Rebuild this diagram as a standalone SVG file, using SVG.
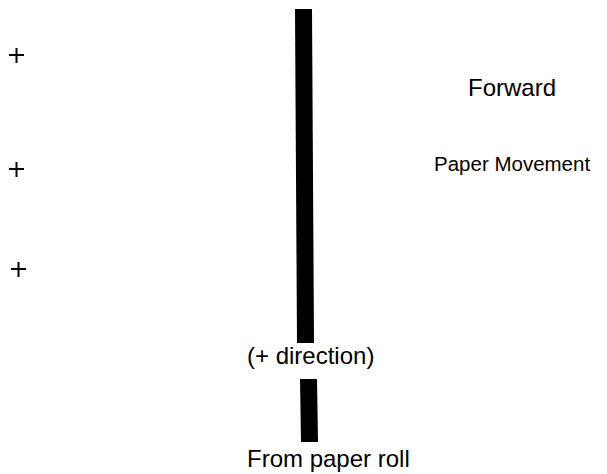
<svg xmlns="http://www.w3.org/2000/svg" width="607" height="474" viewBox="0 0 607 474">
<style>
text{font-family:"Liberation Sans",Arial,sans-serif;font-size:24px;fill:#000}
.plus{stroke:#000;stroke-width:2;fill:none}
.bar{fill:#000}
</style>
<rect width="607" height="474" fill="#fff"/>
<g id="paper">
<polygon class="bar" points="295,9 312,9 314,343 297,343"/>
<polygon class="bar" points="300,379 317,379 318,442 301,442"/>
</g>
<g id="plus-1"><path class="plus" d="M9,55H24M16.5,48V63"/></g>
<g id="plus-2"><path class="plus" d="M9,169H24M16.5,162V177"/></g>
<g id="plus-3"><path class="plus" d="M11,269H26M18.5,262V277"/></g>
<g id="label-forward"><text x="468" y="96">Forward</text></g>
<g id="label-movement"><text x="434" y="171" style="font-size:20.5px">Paper Movement</text></g>
<g id="label-direction"><text x="247" y="364">(+ direction)</text></g>
<g id="label-roll"><text x="247" y="467">From paper roll</text></g>
</svg>
